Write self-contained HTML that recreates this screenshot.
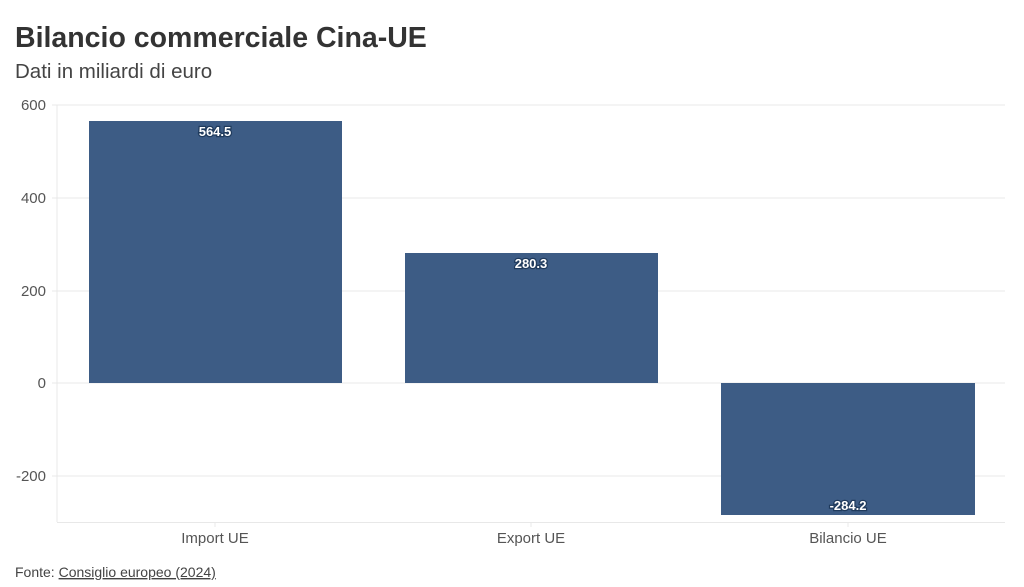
<!DOCTYPE html>
<html><head><meta charset="utf-8"><style>
body{margin:0;background:#fff;font-family:"Liberation Sans",sans-serif;}
svg{display:block}
</style></head><body>
<svg width="1024" height="587" xmlns="http://www.w3.org/2000/svg" font-family="Liberation Sans, sans-serif">
<text x="15" y="47" font-size="28.5" font-weight="bold" fill="#333">Bilancio commerciale Cina-UE</text>
<text x="15" y="78" font-size="20.5" fill="#444">Dati in miliardi di euro</text>
<g stroke="#e8e8e8" stroke-width="1">
<line x1="52" y1="105" x2="1005" y2="105"/>
<line x1="52" y1="198" x2="1005" y2="198"/>
<line x1="52" y1="291" x2="1005" y2="291"/>
<line x1="52" y1="383" x2="1005" y2="383"/>
<line x1="52" y1="476" x2="1005" y2="476"/>
<line x1="57" y1="105" x2="57" y2="522"/>
<line x1="57" y1="522.5" x2="1005" y2="522.5"/>
<line x1="215" y1="522" x2="215" y2="527"/>
<line x1="531" y1="522" x2="531" y2="527"/>
<line x1="848" y1="522" x2="848" y2="527"/>
</g>
<g font-size="15" fill="#555" text-anchor="end">
<text x="46" y="110">600</text>
<text x="46" y="203">400</text>
<text x="46" y="296">200</text>
<text x="46" y="388">0</text>
<text x="46" y="481">-200</text>
</g>
<g fill="#3d5c85">
<rect x="89" y="121" width="253" height="262"/>
<rect x="405" y="253" width="253" height="130"/>
<rect x="721" y="383" width="254" height="132"/>
</g>
<g font-size="13" font-weight="bold" fill="#fff" text-anchor="middle" stroke="#1f3a5c" stroke-width="2.5" paint-order="stroke">
<text x="215" y="136">564.5</text>
<text x="531" y="268">280.3</text>
<text x="848" y="510">-284.2</text>
</g>
<g font-size="15" fill="#555" text-anchor="middle">
<text x="215" y="543">Import UE</text>
<text x="531" y="543">Export UE</text>
<text x="848" y="543">Bilancio UE</text>
</g>
<text x="15" y="577" font-size="14" fill="#444">Fonte: <tspan text-decoration="underline">Consiglio europeo (2024)</tspan></text>
</svg>
</body></html>
